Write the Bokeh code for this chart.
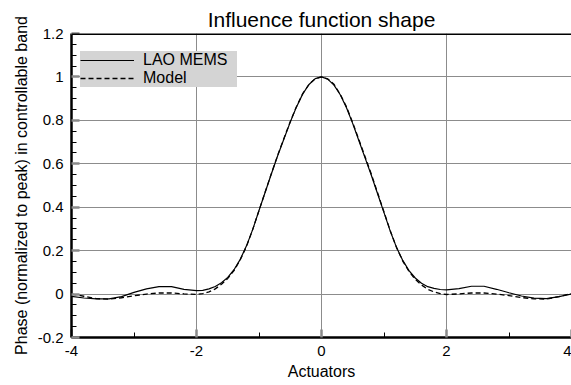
from bokeh.plotting import figure
from bokeh.models import (Range1d, FixedTicker, CustomJSTickFormatter,
                          Legend, LegendItem, Span)
from bokeh.embed import file_html
from bokeh.resources import INLINE

# ---- data ----
actuators = [-4.0, -3.8, -3.6, -3.4, -3.2, -3.0, -2.8, -2.6, -2.4, -2.2,
             -2.0, -1.9, -1.8, -1.7, -1.6, -1.5, -1.4, -1.3, -1.2, -1.1,
             -1.0, -0.9, -0.8, -0.7, -0.6, -0.5, -0.4, -0.3, -0.2, -0.1,
             0.0, 0.1, 0.2, 0.3, 0.4, 0.5, 0.6, 0.7, 0.8, 0.9,
             1.0, 1.1, 1.2, 1.3, 1.4, 1.5, 1.6, 1.7, 1.8, 1.9,
             2.0, 2.2, 2.4, 2.6, 2.8, 3.0, 3.2, 3.4, 3.6, 3.8, 4.0]
lao_mems = [-0.011, -0.018, -0.022, -0.022, -0.012, 0.008, 0.024, 0.034, 0.034, 0.022,
            0.016, 0.017, 0.024, 0.035, 0.052, 0.077, 0.112, 0.160, 0.222, 0.298,
            0.385, 0.470, 0.555, 0.638, 0.715, 0.792, 0.862, 0.922, 0.965, 0.992,
            1.000, 0.990, 0.962, 0.918, 0.858, 0.785, 0.705, 0.625, 0.545, 0.460,
            0.375, 0.290, 0.215, 0.155, 0.108, 0.074, 0.050, 0.034, 0.026, 0.021,
            0.019, 0.025, 0.036, 0.036, 0.022, 0.006, -0.009, -0.019, -0.021, -0.012, 0.000]
model = [0.000, -0.010, -0.021, -0.023, -0.017, -0.008, 0.000, 0.005, 0.005, 0.001,
         -0.002, 0.002, 0.010, 0.024, 0.045, 0.072, 0.108, 0.158, 0.220, 0.298,
         0.385, 0.471, 0.557, 0.640, 0.718, 0.794, 0.864, 0.923, 0.966, 0.992,
         1.000, 0.991, 0.966, 0.920, 0.862, 0.789, 0.710, 0.630, 0.550, 0.464,
         0.378, 0.292, 0.215, 0.152, 0.104, 0.068, 0.042, 0.022, 0.010, 0.002,
         -0.002, 0.001, 0.005, 0.005, 0.000, -0.007, -0.016, -0.022, -0.023, -0.012, 0.003]

x_ticks = [-4, -2, 0, 2, 4]
x_minor_ticks = [-3, -1, 1, 3]
y_ticks = [-0.2, 0.0, 0.2, 0.4, 0.6, 0.8, 1.0, 1.2]
y_minor_ticks = [-0.15, -0.1, -0.05, 0.05, 0.1, 0.15, 0.25, 0.3, 0.35,
                 0.45, 0.5, 0.55, 0.65, 0.7, 0.75, 0.85, 0.9, 0.95,
                 1.05, 1.1, 1.15]

X_MIN, X_MAX = -4, 4
Y_MIN, Y_MAX = -0.2, 1.2

FONT = "Liberation Sans"

p = figure(width=571, height=385, output_backend="svg", toolbar_location=None,
           x_range=Range1d(X_MIN, X_MAX), y_range=Range1d(Y_MIN, Y_MAX),
           min_border_left=71, min_border_right=0, min_border_top=33,
           min_border_bottom=48, title="Influence function shape")

p.title.align = "center"
p.title.text_font = FONT
p.title.text_font_size = "21px"
p.title.text_font_style = "normal"
p.title.text_color = "black"
p.title.standoff = 6
p.title.offset = 0

p.outline_line_color = None
p.background_fill_color = "white"
p.border_fill_color = "white"

# ticks
p.xaxis.ticker = FixedTicker(ticks=x_ticks, minor_ticks=x_minor_ticks)
p.yaxis.ticker = FixedTicker(ticks=y_ticks, minor_ticks=y_minor_ticks)
fmt = "return String(Number(tick.toFixed(2)));"
p.xaxis.formatter = CustomJSTickFormatter(code=fmt)
p.yaxis.formatter = CustomJSTickFormatter(code=fmt)

for ax in (p.xaxis[0], p.yaxis[0]):
    ax.axis_line_color = "black"
    ax.axis_line_width = 2.5
    ax.major_tick_in = 8
    ax.major_tick_out = 0
    ax.major_tick_line_color = "#8a8a8a"
    ax.major_tick_line_width = 2.5
    ax.minor_tick_in = 5
    ax.minor_tick_out = 0
    ax.minor_tick_line_color = "black"
    ax.minor_tick_line_width = 1
    ax.major_label_text_font = FONT
    ax.major_label_text_font_size = "15px"
    ax.major_label_text_color = "black"
    ax.axis_label_text_font = FONT
    ax.axis_label_text_font_size = "16px"
    ax.axis_label_text_font_style = "normal"
    ax.axis_label_text_color = "black"

p.xaxis.axis_label = "Actuators"
p.xaxis.major_label_standoff = 8
p.xaxis.axis_label_standoff = 4
p.yaxis.axis_label = "Phase (normalized to peak) in controllable band"
p.yaxis.major_label_standoff = 8
p.yaxis.axis_label_standoff = 5

p.grid.grid_line_color = "#8c8c8c"
p.grid.grid_line_width = 1

# top frame line
p.add_layout(Span(location=Y_MAX, dimension="width", line_color="black", line_width=3))

r1 = p.line(actuators, lao_mems, line_color="black", line_width=1.2)
r2 = p.line(actuators, model, line_color="black", line_width=1.3, line_dash="5 3")

legend = Legend(items=[LegendItem(label="LAO MEMS", renderers=[r1]),
                       LegendItem(label="Model", renderers=[r2])],
                location=(9, 250), margin=0, padding=3, spacing=0,
                glyph_width=54, glyph_height=18, label_standoff=9,
                label_width=94, label_height=18,
                label_text_font=FONT, label_text_font_size="16px",
                label_text_color="black",
                background_fill_color="#d4d4d4", background_fill_alpha=1,
                border_line_color=None)
p.add_layout(legend)

open("out.html", "w").write(file_html(p, INLINE))
